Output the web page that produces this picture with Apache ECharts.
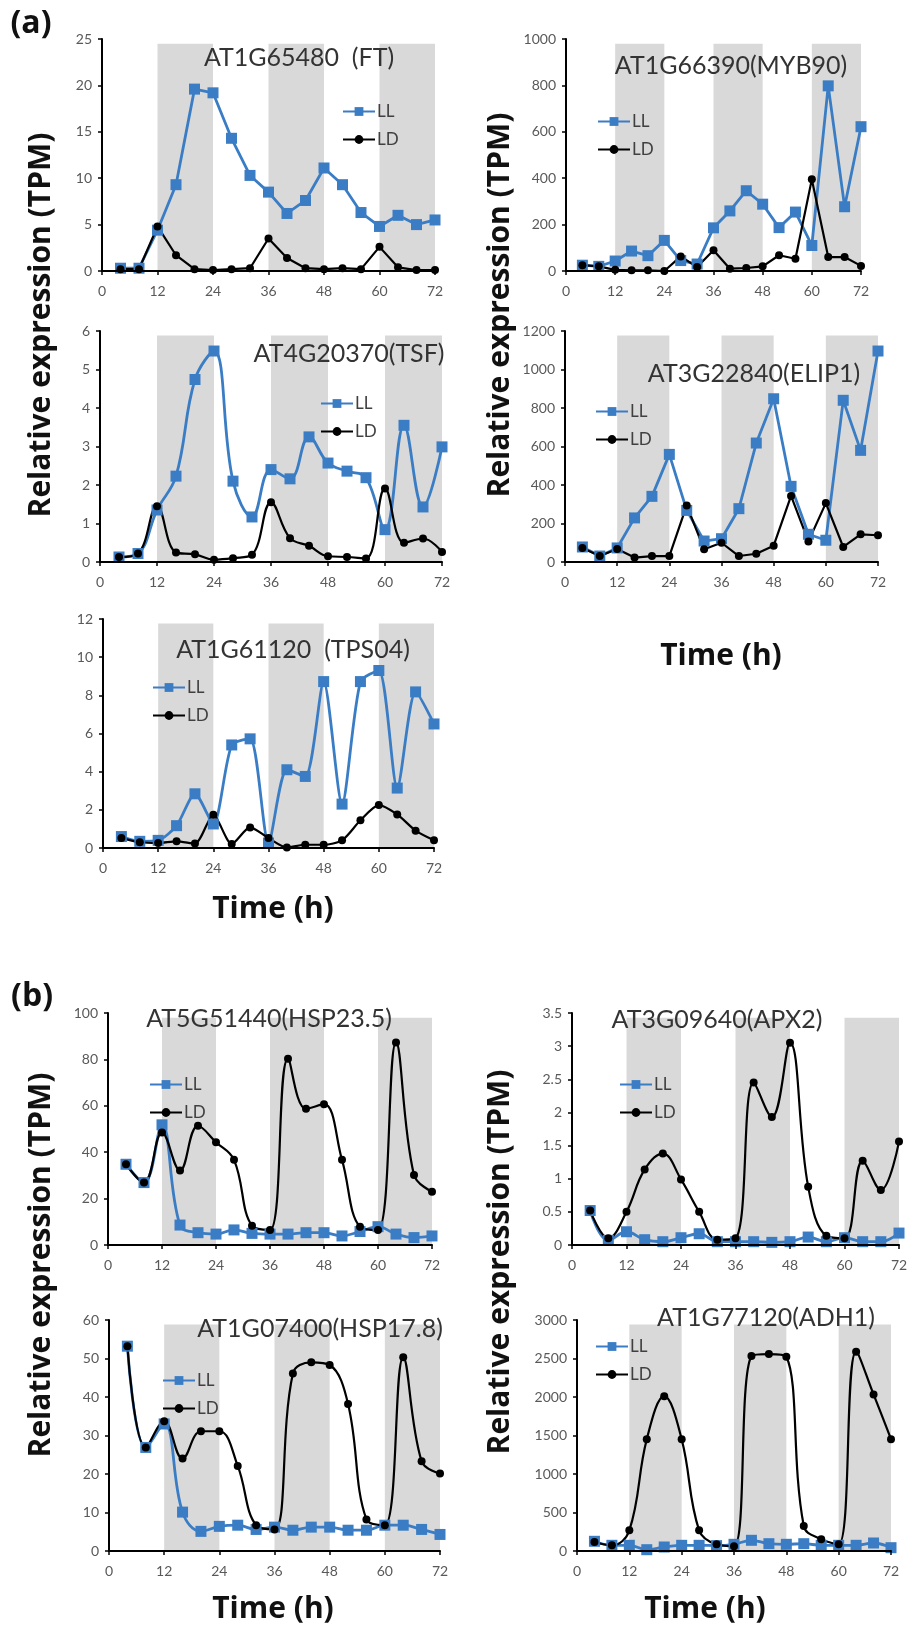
<!DOCTYPE html>
<html><head><meta charset="utf-8">
<script src="https://cdn.jsdelivr.net/npm/echarts@6/dist/echarts.min.js"></script>
<style>html,body{margin:0;padding:0;background:#fff}#c{width:917px;height:1627px}</style>
</head><body><div id="c"></div>
<script>
// ---- data ----
const hours = [4,8,12,16,20,24,28,32,36,40,44,48,52,56,60,64,68,72];
const xTickLabels = [0,12,24,36,48,60,72];
const darkPeriods = [[12,24],[36,48],[60,72]];

const ftLL = [0.3,0.3,4.4,9.3,19.6,19.2,14.3,10.3,8.5,6.2,7.6,11.1,9.3,6.3,4.8,6.0,5.0,5.5];
const ftLD = [0.2,0.2,4.8,1.7,0.2,0.1,0.2,0.3,3.5,1.4,0.3,0.2,0.3,0.2,2.6,0.4,0.1,0.1];

const myb90LL = [25,20,43,86,66,132,45,30,186,259,346,288,187,254,110,798,277,622];
const myb90LD = [25,20,5,3,3,0,63,17,89,10,13,20,68,53,395,60,60,22];

const tsfLL = [0.13,0.22,1.35,2.23,4.74,5.48,2.1,1.17,2.4,2.16,3.25,2.57,2.36,2.19,0.84,3.55,1.43,2.99];
const tsfLD = [0.13,0.22,1.45,0.25,0.2,0.06,0.1,0.19,1.55,0.62,0.42,0.15,0.13,0.09,1.91,0.5,0.61,0.26];

const elip1LL = [78,31,73,229,341,559,268,109,121,277,618,848,393,144,113,840,580,1096];
const elip1LD = [73,31,68,23,31,31,294,66,100,31,43,85,343,107,306,78,144,139];

const tps04LL = [0.6,0.35,0.4,1.17,2.84,1.26,5.4,5.72,0.26,4.1,3.75,8.72,2.3,8.72,9.3,3.14,8.18,6.5];
const tps04LD = [0.52,0.3,0.26,0.35,0.23,1.74,0.21,1.08,0.52,0.03,0.17,0.17,0.4,1.45,2.25,1.76,0.91,0.4];

const hsp235LL = [34.8,26.9,51.8,8.6,5.3,4.7,6.5,5.0,4.7,4.7,5.3,5.3,3.9,5.8,7.9,4.7,3.2,3.9];
const hsp235LD = [34.8,26.9,48.5,32.1,51.4,44.3,36.7,8.3,6.5,80.3,58.7,60.7,36.7,7.9,6.5,87.3,30.2,23.0];

const apx2LL = [0.52,0.07,0.2,0.08,0.05,0.11,0.17,0.05,0.05,0.05,0.04,0.05,0.12,0.05,0.11,0.05,0.05,0.18];
const apx2LD = [0.52,0.1,0.5,1.14,1.38,0.99,0.5,0.08,0.1,2.45,1.93,3.05,0.88,0.14,0.1,1.27,0.83,1.56];

const hsp178LL = [53.2,26.9,33.0,10.1,5.1,6.4,6.7,5.6,6.2,5.4,6.2,6.2,5.4,5.4,6.7,6.7,5.6,4.3];
const hsp178LD = [53.2,26.9,33.7,24.0,31.1,31.1,22.1,6.7,5.6,46.1,49.0,48.3,38.2,8.2,6.7,50.3,23.3,20.1];

const adh1LL = [126,74,74,17,52,74,74,70,87,139,95,87,95,74,74,74,104,43];
const adh1LD = [117,74,269,1452,2011,1452,269,87,61,2531,2557,2523,325,152,87,2588,2033,1452];

const panelTitles = ['AT1G65480  (FT)','AT1G66390(MYB90)','AT4G20370(TSF)','AT3G22840(ELIP1)','AT1G61120  (TPS04)',
  'AT5G51440(HSP23.5)','AT3G09640(APX2)','AT1G07400(HSP17.8)','AT1G77120(ADH1)'];
const yMaxes = [25,1000,6,1200,12,100,3.5,60,3000];
const ySteps = [5,200,1,200,2,20,0.5,10,500];

// ---- layout ----
const BLUE = '#3a7dc5';
const llData = [ftLL,myb90LL,tsfLL,elip1LL,tps04LL,hsp235LL,apx2LL,hsp178LL,adh1LL];
const ldData = [ftLD,myb90LD,tsfLD,elip1LD,tps04LD,hsp235LD,apx2LD,hsp178LD,adh1LD];
const smooths = [false,false,0.4,false,0.25,0.4,0.4,0.4,0.4];
const grids = [
  {left:102,top:39,width:333,height:232},
  {left:566,top:39,width:295,height:232},
  {left:100,top:331,width:342,height:231},
  {left:565,top:331,width:313,height:231},
  {left:103,top:619,width:331,height:229},
  {left:108,top:1013,width:324,height:232},
  {left:572,top:1013,width:327,height:232},
  {left:109,top:1320,width:331,height:231},
  {left:577,top:1320,width:314,height:231}
];
const titlePos = [[299,58],[731,66],[349,354],[754,374],[293,650],[269,1019],[717,1020],[320,1329],[766,1318]];
const legendPos = [[337,98],[592,108],[315,390],[590,398],[147,674],[144,1071],[614,1071],[157,1367],[590,1333]];

const tickFont = {fontFamily:'Lato',fontSize:14,color:'#595959'};
const plain = v => String(v);
const option = {
  animation:false,
  backgroundColor:'#fff',
  grid:[], xAxis:[], yAxis:[], series:[], legend:[], graphic:[]
};
grids.forEach((g,i)=>{
  option.grid.push(Object.assign({containLabel:false},g));
  option.xAxis.push({type:'value',gridIndex:i,min:xTickLabels[0],max:xTickLabels[xTickLabels.length-1],interval:12,z:5,
    axisLine:{show:true,onZero:false,lineStyle:{color:'#000',width:2}},
    axisTick:{show:true,length:4,lineStyle:{color:'#000',width:1.5}},
    axisLabel:Object.assign({margin:13,formatter:plain},tickFont),splitLine:{show:false}});
  option.yAxis.push({type:'value',gridIndex:i,min:0,max:yMaxes[i],interval:ySteps[i],z:5,
    axisLine:{show:true,lineStyle:{color:'#000',width:2}},
    axisTick:{show:true,length:4,lineStyle:{color:'#000',width:1.5}},
    axisLabel:Object.assign({margin:10,formatter:plain},tickFont),splitLine:{show:false}});
  option.series.push({type:'line',name:'LL',xAxisIndex:i,yAxisIndex:i,
    data:hours.map((h,k)=>[h,llData[i][k]]),smooth:smooths[i],
    symbol:'rect',symbolSize:11,itemStyle:{color:BLUE},lineStyle:{color:BLUE,width:2.8},
    markArea:{silent:true,itemStyle:{color:'#d9d9d9'},
      data:darkPeriods.map(p=>[{xAxis:p[0],yAxis:0},{xAxis:p[1],yAxis:yMaxes[i]*0.98}])}});
  option.series.push({type:'line',name:'LD',xAxisIndex:i,yAxisIndex:i,
    data:hours.map((h,k)=>[h,ldData[i][k]]),smooth:smooths[i],
    symbol:'circle',symbolSize:8,itemStyle:{color:'#000'},lineStyle:{color:'#000',width:2.2}});
  option.legend.push({orient:'vertical',left:legendPos[i][0],top:legendPos[i][1],
    itemWidth:32,itemHeight:11,itemGap:11,selectedMode:false,data:['LL','LD'],
    textStyle:{fontFamily:'Lato',fontSize:17,color:'#404040',padding:[0,0,0,-3]}});
  option.graphic.push({type:'text',x:titlePos[i][0],y:titlePos[i][1],z:10,
    style:{text:panelTitles[i],font:'25px Lato',fill:'#333',textAlign:'center',textVerticalAlign:'middle'}});
});
const boldFont = 'bold 30px "Open Sans"';
[[41,325],[500,305],[41,1265],[500,1262]].forEach(p=>{
  option.graphic.push({type:'text',x:p[0],y:p[1],rotation:Math.PI/2,
    style:{text:'Relative expression (TPM)',font:boldFont,fill:'#111',textAlign:'center',textVerticalAlign:'middle'}});
});
[[273,909],[721,656],[273,1609],[705,1609]].forEach(p=>{
  option.graphic.push({type:'text',x:p[0],y:p[1],
    style:{text:'Time (h)',font:boldFont,fill:'#111',textAlign:'center',textVerticalAlign:'middle'}});
});
option.graphic.push({type:'text',x:31,y:24,style:{text:'(a)',font:'bold 32px "Open Sans"',fill:'#111',textAlign:'center',textVerticalAlign:'middle'}});
option.graphic.push({type:'text',x:32,y:997,style:{text:'(b)',font:'bold 32px "Open Sans"',fill:'#111',textAlign:'center',textVerticalAlign:'middle'}});

const chart = echarts.init(document.getElementById('c'),null,{renderer:'canvas'});
chart.setOption(option);
</script></body></html>
